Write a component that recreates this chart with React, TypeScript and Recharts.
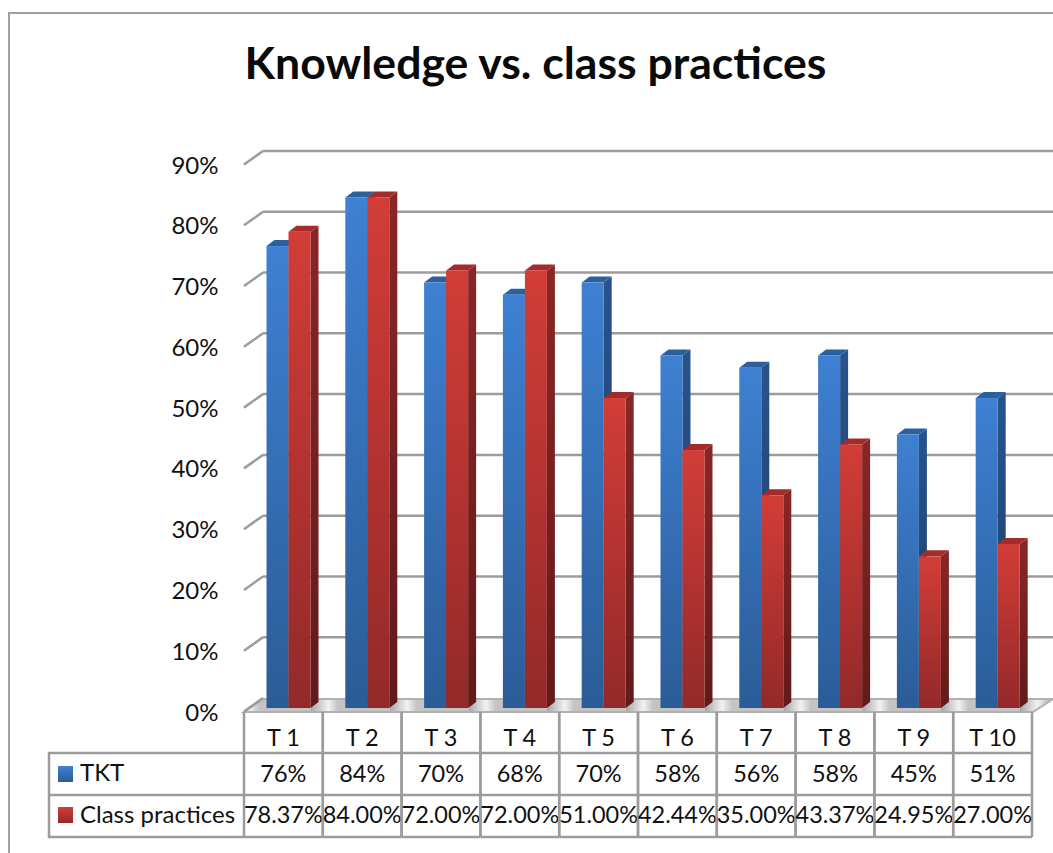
import React from 'react';
import { BarChart, Bar, XAxis, YAxis, CartesianGrid } from 'recharts';

const CATEGORIES = ['T 1', 'T 2', 'T 3', 'T 4', 'T 5', 'T 6', 'T 7', 'T 8', 'T 9', 'T 10'];
const TKT = [76, 84, 70, 68, 70, 58, 56, 58, 45, 51];
const CLASS_PRACTICES = [78.37, 84, 72, 72, 51, 42.44, 35, 43.37, 24.95, 27];
const Y_TICKS = [0, 10, 20, 30, 40, 50, 60, 70, 80, 90];

const data = CATEGORIES.map((name, i) => ({ name, tkt: TKT[i], practices: CLASS_PRACTICES[i] }));

const FONT = 'Lato, "Open Sans", sans-serif';
const LINE = '#9c9c9c';
const TEXT = '#111111';
const PLOT_LEFT = 249.5;
const PLOT_BOTTOM = 708;
const COL_W = 78.8;
const DEPTH_X = 8;
const DEPTH_Y = 6;

// 3d bar: front face plus top and side faces
const makeBar = (color: 'blue' | 'red') => (props: any) => {
  const { x, y, width, height } = props;
  const r = x + width;
  const b = y + height;
  const top = color === 'blue' ? '#2b609f' : '#a32c2a';
  return (
    <g>
      <polygon
        points={`${r},${y} ${r + DEPTH_X},${y - DEPTH_Y} ${r + DEPTH_X},${b - DEPTH_Y} ${r},${b}`}
        fill={`url(#${color}Side)`}
      />
      <polygon
        points={`${x},${y} ${x + DEPTH_X},${y - DEPTH_Y} ${r + DEPTH_X},${y - DEPTH_Y} ${r},${y}`}
        fill={top}
      />
      <rect x={x} y={y} width={width} height={height} fill={`url(#${color}Front)`} />
    </g>
  );
};

// back wall lines with the short diagonal on the left wall, floor at the bottom one
const gridLine = (props: any) => {
  const { x1, x2, y1 } = props;
  const frontX = x1 - 5.5;
  const backX = x1 + 13.5;
  const endX = x2 + 15.5;
  const isFloor = Math.abs(y1 - PLOT_BOTTOM) < 1;
  return (
    <g key={props.key}>
      {isFloor && (
        <polygon
          points={`${frontX},${y1 + 4} ${x2 - 4.5},${y1 + 4} ${endX},${y1 - 9} ${backX},${y1 - 9}`}
          fill="url(#floor)"
          stroke="#b0b0b0"
          strokeWidth={2}
        />
      )}
      {!isFloor && <line x1={backX} y1={y1 - 10} x2={endX} y2={y1 - 10} stroke={LINE} strokeWidth={2.5} />}
      <line x1={frontX} y1={y1 + 3.5} x2={backX} y2={y1 - 10} stroke={LINE} strokeWidth={2.5} />
    </g>
  );
};

const YTick = (props: any) => {
  const { x, y, payload } = props;
  return (
    <text x={x - 1} y={y + 12.5} textAnchor="end" fontFamily={FONT} fontSize={24} fill={TEXT}>
      {payload.value}%
    </text>
  );
};

// one column of the data table per category, legend cell with the first one
const TableTick = (props: any) => {
  const { x, index } = props;
  const left = x - COL_W / 2 - 5.5;
  const cx = left + COL_W / 2;
  const rows = [712, 753, 795, 837];
  const tktLabel = `${TKT[index]}%`;
  const practicesLabel = `${CLASS_PRACTICES[index].toFixed(2)}%`;
  const cell = { textAnchor: 'middle' as const, fontFamily: FONT, fontSize: 23.5, fill: TEXT };
  return (
    <g>
      <line x1={left} y1={rows[0]} x2={left} y2={rows[3]} stroke={LINE} strokeWidth={2.5} />
      <line x1={left + COL_W} y1={rows[0]} x2={left + COL_W} y2={rows[3]} stroke={LINE} strokeWidth={2.5} />
      <line x1={left} y1={rows[1]} x2={left + COL_W} y2={rows[1]} stroke={LINE} strokeWidth={2.5} />
      <line x1={left} y1={rows[2]} x2={left + COL_W} y2={rows[2]} stroke={LINE} strokeWidth={2.5} />
      <line x1={left} y1={rows[3]} x2={left + COL_W} y2={rows[3]} stroke={LINE} strokeWidth={2.5} />
      <text x={cx} y={746} {...cell}>{CATEGORIES[index]}</text>
      <text x={cx} y={782} {...cell}>{tktLabel}</text>
      <text x={cx} y={823} {...cell}>{practicesLabel}</text>
      {index === 0 && (
        <g>
          <polyline points={`${left},${rows[1]} 49,${rows[1]} 49,${rows[3]} ${left},${rows[3]}`} fill="none" stroke={LINE} strokeWidth={2.5} />
          <line x1={49} y1={rows[2]} x2={left} y2={rows[2]} stroke={LINE} strokeWidth={2.5} />
          <rect x={58} y={766} width={15} height={16} fill="url(#blueFront)" />
          <rect x={58} y={807} width={15} height={16} fill="url(#redFront)" />
          <text x={80} y={781} fontFamily={FONT} fontSize={24} fill={TEXT}>TKT</text>
          <text x={80} y={823} fontFamily={FONT} fontSize={24} fill={TEXT}>Class practices</text>
        </g>
      )}
    </g>
  );
};

const Grad = ({ id, from, to }: { id: string; from: string; to: string }) => (
  <linearGradient id={id} x1="0" y1="0" x2="0" y2="1">
    <stop offset="0%" stopColor={from} />
    <stop offset="100%" stopColor={to} />
  </linearGradient>
);

export default function App() {
  return (
    <div style={{ position: 'absolute', left: 0, top: 0, width: 1053, height: 853, background: '#fff', overflow: 'hidden' }}>
      <div style={{ position: 'absolute', left: 8, top: 12, right: 0, bottom: -4, borderLeft: '2px solid #a0a0a0', borderTop: '2px solid #a0a0a0' }} />
      <div style={{ position: 'absolute', left: 0, top: 35, width: 1071, textAlign: 'center', fontFamily: FONT, fontWeight: 700, fontSize: 44.6, lineHeight: '54px', color: '#0a0a0a' }}>
        Knowledge vs. class practices
      </div>
      <BarChart
        width={1053}
        height={853}
        data={data}
        barSize={22}
        barGap={0}
        margin={{ top: 161, right: 15.5, bottom: 0, left: 0 }}
        style={{ position: 'absolute', left: 0, top: 0 }}
      >
        <defs>
          <Grad id="blueFront" from="#3e80d2" to="#2b5c97" />
          <Grad id="redFront" from="#d23d37" to="#93292a" />
          <Grad id="blueSide" from="#28538c" to="#1c3d68" />
          <Grad id="redSide" from="#8a2626" to="#621a1a" />
          <linearGradient id="floor" gradientUnits="userSpaceOnUse" x1="311" y1="0" x2="389.8" y2="0" spreadMethod="repeat">
            <stop offset="0%" stopColor="#a8a8a8" />
            <stop offset="22%" stopColor="#f2f2f2" />
            <stop offset="34%" stopColor="#c4c4c4" />
            <stop offset="100%" stopColor="#c4c4c4" />
          </linearGradient>
        </defs>
        <CartesianGrid vertical={false} horizontal={gridLine} />
        <XAxis dataKey="name" height={145} axisLine={false} tickLine={false} tick={TableTick} interval={0} />
        <YAxis
          width={PLOT_LEFT}
          domain={[0, 90]}
          ticks={Y_TICKS}
          axisLine={{ stroke: 'none' }}
          tickLine={false}
          tickMargin={24}
          tick={YTick}
          interval={0}
        />
        <Bar dataKey="tkt" isAnimationActive={false} shape={makeBar('blue')} />
        <Bar dataKey="practices" isAnimationActive={false} shape={makeBar('red')} />
      </BarChart>
    </div>
  );
}
